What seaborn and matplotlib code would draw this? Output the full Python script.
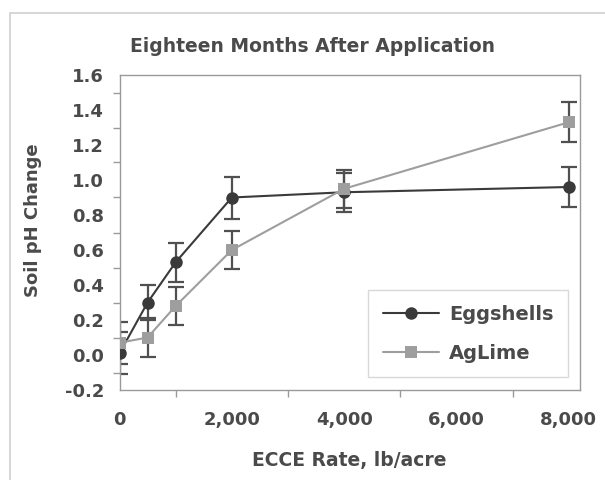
import matplotlib
matplotlib.use("Agg")
import matplotlib.pyplot as plt
import seaborn as sns
import pandas as pd
from matplotlib.patches import Rectangle
from matplotlib.ticker import MultipleLocator, FuncFormatter

# ---- data ----
rates = [0, 500, 1000, 2000, 4000, 8000]
eggshells = [0.01, 0.30, 0.53, 0.90, 0.93, 0.96]
eggshells_err = [0.12, 0.10, 0.11, 0.12, 0.11, 0.115]
aglime = [0.07, 0.10, 0.28, 0.60, 0.95, 1.33]
aglime_err = [0.12, 0.11, 0.11, 0.11, 0.11, 0.115]
series_names = ["Eggshells", "AgLime"]
title = "Eighteen Months After Application"
xlabel = "ECCE Rate, lb/acre"
ylabel = "Soil pH Change"

sns.set_theme(style="white")
plt.rcParams["font.family"] = ["DejaVu Sans"]
plt.rcParams["font.weight"] = "bold"

txt = "#4a4a4a"
egg_col = "#3a3a3a"
ag_col = "#9e9e9e"
err_col = "#505050"

df = pd.DataFrame({
    "rate": rates * 2,
    "change": eggshells + aglime,
    "err": eggshells_err + aglime_err,
    "series": [series_names[0]] * len(rates) + [series_names[1]] * len(rates),
})

fig = plt.figure(figsize=(6.05, 4.8), dpi=100)
fig.patch.set_facecolor("white")
fig.add_artist(Rectangle((10 / 605, -0.1), 1.2, 1 - 13 / 480 + 0.1,
                         transform=fig.transFigure, fill=False,
                         edgecolor="#d0d0d0", linewidth=1.2))

ax = fig.add_axes([119.5 / 605, 1 - 390 / 480, (580 - 119.5) / 605, 315 / 480])

# error bars
for name in series_names:
    sub = df[df["series"] == name]
    ax.errorbar(sub["rate"], sub["change"], yerr=sub["err"], fmt="none",
                ecolor=err_col, elinewidth=1.6, capsize=6, capthick=1.6, zorder=2)

sns.lineplot(data=df, x="rate", y="change", hue="series", style="series",
             markers={"Eggshells": "o", "AgLime": "s"}, dashes=False,
             palette={"Eggshells": egg_col, "AgLime": ag_col},
             markersize=9, markeredgewidth=0, linewidth=1.5, ax=ax, zorder=3,
             estimator=None, sort=False)

ax.set_xlim(0, 8200)
ax.set_ylim(-0.2, 1.6)
ax.xaxis.set_major_locator(MultipleLocator(2000))
ax.xaxis.set_minor_locator(MultipleLocator(1000))
ax.yaxis.set_major_locator(MultipleLocator(0.2))
ax.yaxis.set_minor_locator(MultipleLocator(0.1))
ax.xaxis.set_major_formatter(FuncFormatter(lambda v, p: f"{int(v):,}"))
ax.yaxis.set_major_formatter(FuncFormatter(lambda v, p: f"{v:.1f}"))

for s in ax.spines.values():
    s.set_visible(True)
    s.set_color("#9a9a9a")
    s.set_linewidth(1.0)

ax.tick_params(axis="both", which="both", direction="out", length=5, width=1,
               color="#9a9a9a", labelcolor=txt, labelsize=13)
ax.tick_params(axis="x", which="major", pad=10)
ax.tick_params(axis="y", which="major", pad=6)
ax.tick_params(axis="x", which="minor", bottom=True)
ax.tick_params(axis="y", which="minor", left=True)

ax.set_xlabel(xlabel, fontsize=13.5, fontweight="bold", color=txt, labelpad=16)
ax.set_ylabel(ylabel, fontsize=13, fontweight="bold", color=txt)
ax.yaxis.set_label_coords(-0.168, 0.54)

fig.text(312 / 605, 1 - 46 / 480, title, ha="center", va="center",
         fontsize=13.5, fontweight="bold", color=txt)

leg = ax.legend(loc="lower right", bbox_to_anchor=(0.974, 0.041),
                borderaxespad=0, frameon=True, fancybox=False,
                fontsize=14, handlelength=2.9, labelspacing=1.0,
                borderpad=0.75, handletextpad=0.5)
leg.get_frame().set_edgecolor("#cfcfcf")
leg.get_frame().set_linewidth(1.0)
for t in leg.get_texts():
    t.set_color(txt)
    t.set_fontweight("bold")

fig.savefig("out.png", dpi=100)
